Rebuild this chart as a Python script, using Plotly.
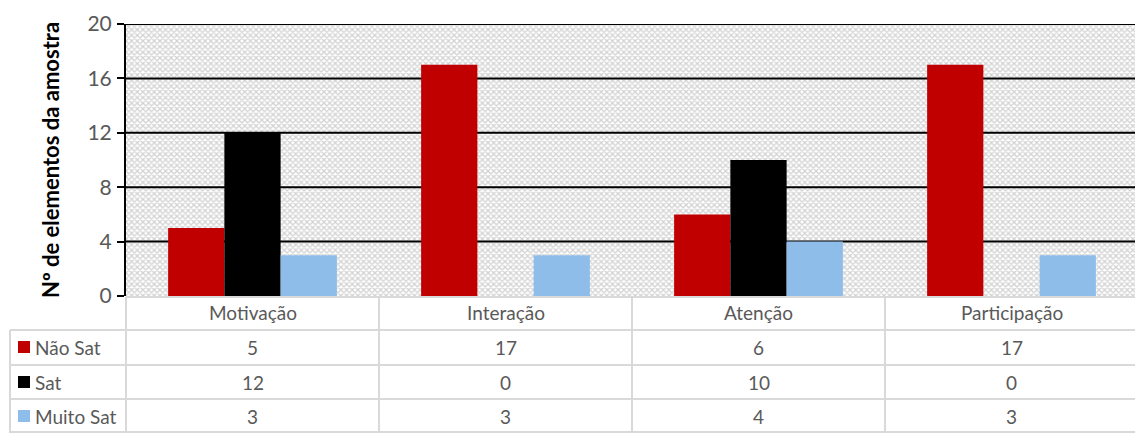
import plotly.graph_objects as go

categories = ["Motivação", "Interação", "Atenção", "Participação"]
series_names = ["Não Sat", "Sat", "Muito Sat"]
nao_sat = [5, 17, 6, 17]
sat = [12, 0, 10, 0]
muito_sat = [3, 3, 4, 3]
series_values = [nao_sat, sat, muito_sat]
colors = ["#C00000", "#000000", "#8FBDEA"]
y_ticks = [0, 4, 8, 12, 16, 20]

W, H = 1135, 433
ML, MR, MT, MB = 126, 0, 24, 137
PW, PH = W - ML - MR, H - MT - MB
XR = [-0.5, -0.5 + PW / 253.0]
YR = [0, 20]

def py(p):  # pixel y -> paper y
    return (H - MB - p) / PH

def px(p):  # pixel x -> paper x
    return (p - ML) / PW

FONT = "Lato"
GRAY = "#595959"
LINE = "#D9D9D9"

fig = go.Figure()

# patterned plot background
fig.add_trace(go.Scatter(
    x=[XR[0], XR[1], XR[1], XR[0], XR[0]], y=[YR[0], YR[0], YR[1], YR[1], YR[0]],
    fill="toself", mode="none", fillcolor="white",
    fillpattern=dict(shape="x", size=4, solidity=0.55, fgcolor="#A6A6A6", bgcolor="white"),
    hoverinfo="skip", showlegend=False, xaxis="x", yaxis="y"))

# gridlines (above background, below bars)
gx, gy = [], []
for t in y_ticks[1:]:
    gx += [XR[0], XR[1], None]
    gy += [t, t, None]
fig.add_trace(go.Scatter(x=gx, y=gy, mode="lines", line=dict(color="black", width=2),
                         cliponaxis=False, hoverinfo="skip", showlegend=False,
                         xaxis="x", yaxis="y"))

# bars on overlay axes
for name, vals, c in zip(series_names, series_values, colors):
    fig.add_trace(go.Bar(x=list(range(len(categories))), y=vals, name=name,
                         marker=dict(color=c, line=dict(width=0)),
                         xaxis="x2", yaxis="y2", showlegend=False))

fig.update_layout(
    width=W, height=H, margin=dict(l=ML, r=MR, t=MT, b=MB),
    paper_bgcolor="white", plot_bgcolor="white",
    barmode="group", bargap=0.333, bargroupgap=0,
    font=dict(family=FONT, color=GRAY),
    xaxis=dict(range=XR, showgrid=False, zeroline=False, showticklabels=False,
               showline=False, ticks=""),
    yaxis=dict(range=YR, tickvals=y_ticks, showgrid=False, zeroline=False,
               showline=True, linecolor="black", linewidth=2,
               ticks="outside", ticklen=7, tickwidth=2, tickcolor="black",
               ticklabelstandoff=1,
               tickfont=dict(size=21, color=GRAY, family=FONT),
               title=dict(text="<b>Nº de elementos da amostra</b>",
                          font=dict(size=22, color="black", family=FONT), standoff=22)),
    xaxis2=dict(range=XR, overlaying="x", visible=False),
    yaxis2=dict(range=YR, overlaying="y", visible=False),
)

# data table lines
shapes = []
def hline(x0, x1, y):
    shapes.append(dict(type="line", xref="paper", yref="paper", x0=x0, x1=x1, y0=y, y1=y,
                       line=dict(color=LINE, width=2)))
def vline(x, y0, y1, xref="paper"):
    shapes.append(dict(type="line", xref=xref, yref="paper", x0=x, x1=x, y0=y0, y1=y1,
                       line=dict(color=LINE, width=2)))

hline(0, px(1135), py(297))
for yy in [330, 365, 399, 432]:
    hline(px(10), px(1135), py(yy))
vline(px(10), py(330), py(433))
vline(0, py(297), py(433))
for k in range(1, len(categories)):
    vline(k - 0.5, py(297), py(433), xref="x")

# legend keys
row_centers = [347, 382, 416]
for c, rc in zip(colors, row_centers):
    shapes.append(dict(type="rect", xref="paper", yref="paper",
                       x0=px(18), x1=px(30), y0=py(rc - 6), y1=py(rc + 6),
                       fillcolor=c, line=dict(width=0)))
fig.update_layout(shapes=shapes)

ann = []
FS = 19
for i, cat in enumerate(categories):
    ann.append(dict(text=cat, x=i, xref="x", y=py(312), yref="paper", yanchor="middle",
                    showarrow=False, font=dict(size=FS, color=GRAY, family=FONT)))
for name, vals, rc in zip(series_names, series_values, row_centers):
    ann.append(dict(text=name, x=px(33), xref="paper", xanchor="left", y=py(rc),
                    yref="paper", yanchor="middle",
                    showarrow=False, font=dict(size=FS, color=GRAY, family=FONT)))
    for i, v in enumerate(vals):
        ann.append(dict(text=str(v), x=i, xref="x", y=py(rc), yref="paper", yanchor="middle",
                        showarrow=False, font=dict(size=FS, color=GRAY, family=FONT)))
fig.update_layout(annotations=ann)

fig.write_html("out.html")
